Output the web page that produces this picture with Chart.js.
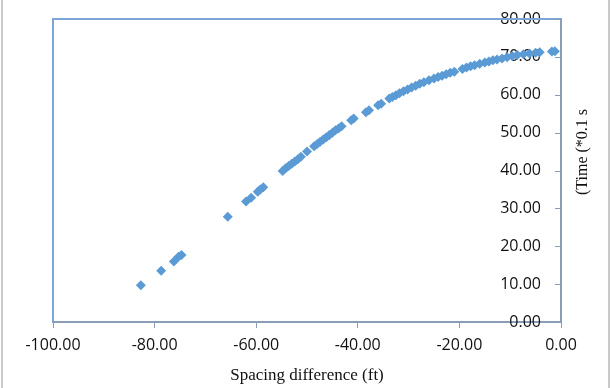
<!DOCTYPE html>
<html>
<head>
<meta charset="utf-8">
<script src="https://cdn.jsdelivr.net/npm/chart.js@4.4.1/dist/chart.umd.min.js"></script>
<style>
    html, body { margin: 0; padding: 0; background: #fff; }
    #wrap { position: relative; width: 614px; height: 388px; }
    #chart-area { position: absolute; left: 0; top: 0; }
    .edge { position: absolute; top: 0; width: 2px; height: 388px; background: #c9c9c9; }
</style>
</head>
<body>
<div id="wrap">
    <canvas id="chart-area" width="614" height="388"></canvas>
    <div class="edge" style="left:1px"></div>
    <div class="edge" style="left:608px"></div>
</div>
<script>
// spacing difference (ft)
let spacing = [
    -82.7, -78.7, -76.2, -75.3, -74.7, -65.6, -62.0, -61.0, -59.7, -59.2,
    -58.6, -54.8, -54.2, -53.6, -53.0, -52.4, -51.8, -51.2, -50.0, -48.6,
    -48.0, -47.4, -46.8, -46.2, -45.6, -45.0, -44.4, -43.8, -43.2, -41.3,
    -40.8, -38.4, -37.8, -36.0, -35.4, -33.8, -33.2, -32.5, -31.8, -31.0,
    -30.2, -29.4, -28.6, -27.8, -27.0, -26.0, -25.0, -24.2, -23.4, -22.6,
    -21.8, -21.0, -19.4, -18.6, -17.8, -17.0, -16.0, -15.0, -14.2, -13.4,
    -12.6, -11.6, -10.6, -9.6, -8.6, -7.4, -6.2, -5.0, -4.2, -1.8,
    -1.2
];
// time (*0.1 s)
let time = [
    9.7, 13.5, 16.0, 17.2, 17.7, 27.8, 31.8, 32.8, 34.4, 35.0,
    35.6, 39.9, 40.6, 41.2, 41.8, 42.4, 43.0, 43.6, 45.0, 46.4,
    47.0, 47.6, 48.2, 48.8, 49.4, 50.0, 50.6, 51.1, 51.7, 53.3,
    53.7, 55.4, 55.9, 57.2, 57.6, 59.0, 59.4, 59.9, 60.4, 60.9,
    61.4, 61.9, 62.4, 62.9, 63.3, 63.8, 64.3, 64.7, 65.0, 65.4,
    65.8, 66.1, 66.8, 67.2, 67.5, 67.8, 68.2, 68.5, 68.8, 69.1,
    69.3, 69.6, 69.9, 70.2, 70.5, 70.7, 70.9, 71.1, 71.2, 71.4,
    71.5
];
let xTicks = [-100, -80, -60, -40, -20, 0];
let yTicks = [0, 10, 20, 30, 40, 50, 60, 70, 80];
let xTitle = 'Spacing difference (ft)';
let yTitle = '(Time (*0.1 s';

let points = spacing.map(function (x, i) { return {x: x, y: time[i]}; });

let axisColor = '#8a9db6';
let frameColor = '#7ba6d6';
let labelFont = {family: "'Open Sans', 'Liberation Sans', sans-serif", size: 16};

// plot frame (top/left), inward y ticks and the right-hand title
let extras = {
    id: 'extras',
    afterDraw: function (chart) {
        let ctx = chart.ctx;
        let a = chart.chartArea;
        let ys = chart.scales.y;
        ctx.save();
        ctx.strokeStyle = frameColor;
        ctx.lineWidth = 2;
        ctx.beginPath();
        ctx.moveTo(a.left, a.bottom);
        ctx.lineTo(a.left, a.top);
        ctx.lineTo(a.right, a.top);
        ctx.stroke();

        ctx.strokeStyle = axisColor;
        ctx.lineWidth = 1;
        yTicks.forEach(function (v) {
            let py = Math.round(ys.getPixelForValue(v)) + 0.5;
            ctx.beginPath();
            ctx.moveTo(a.right - 6, py);
            ctx.lineTo(a.right, py);
            ctx.stroke();
        });

        ctx.fillStyle = '#111';
        ctx.font = "16px 'Liberation Serif', 'Times New Roman', serif";
        ctx.textAlign = 'center';
        ctx.textBaseline = 'middle';
        ctx.translate(583, 152);
        ctx.rotate(-Math.PI / 2);
        ctx.fillText(yTitle, 0, 0);
        ctx.restore();
    }
};

let ctx = document.getElementById('chart-area').getContext('2d');
window.myScatter = new Chart(ctx, {
    type: 'scatter',
    data: {
        datasets: [{
            data: points,
            pointStyle: 'rectRot',
            pointRadius: 5,
            pointBackgroundColor: '#5b9bd5',
            pointBorderWidth: 0,
            clip: false
        }]
    },
    options: {
        responsive: false,
        animation: false,
        events: [],
        layout: {padding: {left: 53, top: 19, right: 0, bottom: 0}},
        plugins: {legend: {display: false}, tooltip: {enabled: false}},
        scales: {
            x: {
                type: 'linear',
                min: -100,
                max: 0,
                afterBuildTicks: function (s) { s.ticks = xTicks.map(function (v) { return {value: v}; }); },
                afterFit: function (s) { s.height = 66; },
                grid: {drawOnChartArea: false, drawTicks: true, tickLength: 6, color: axisColor},
                border: {color: axisColor, width: 2},
                ticks: {
                    font: labelFont,
                    color: '#111',
                    padding: 8,
                    maxRotation: 0,
                    callback: function (v) { return Number(v).toFixed(2); }
                },
                title: {
                    display: true,
                    text: xTitle,
                    color: '#111',
                    font: {family: "'Liberation Serif', 'Times New Roman', serif", size: 17},
                    padding: {top: 0, bottom: 2}
                }
            },
            y: {
                type: 'linear',
                position: 'right',
                min: 0,
                max: 80,
                afterBuildTicks: function (s) { s.ticks = yTicks.map(function (v) { return {value: v}; }); },
                afterFit: function (s) { s.width = 53; },
                grid: {drawOnChartArea: false, drawTicks: false},
                border: {color: axisColor, width: 2},
                ticks: {
                    mirror: true,
                    font: labelFont,
                    color: '#111',
                    padding: -20,
                    callback: function (v) { return Number(v).toFixed(2); }
                }
            }
        }
    },
    plugins: [extras]
});
</script>
</body>
</html>
